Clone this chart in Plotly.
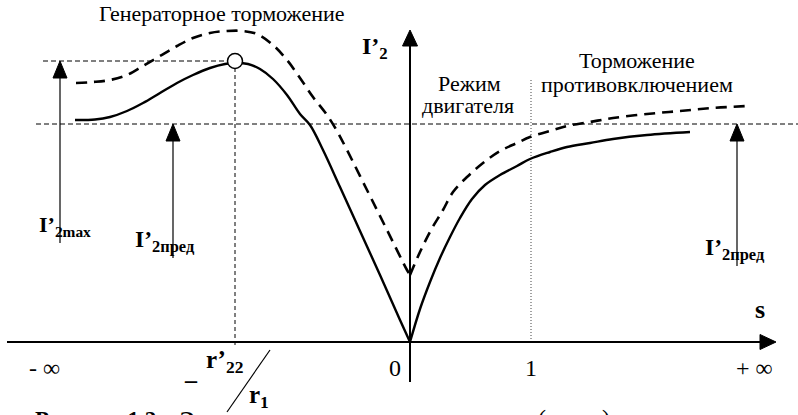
import plotly.graph_objects as go

# chart units ~ pixels; origin where the I'2 axis crosses the s axis
# solid curve (nominal), generator branch (s < 0) and motor/braking branch (s > 0)
s_gen = [-335, -315, -300, -283, -267, -250, -233, -217, -200, -185, -175, -162,
         -150, -137, -123, -110, -100, -87, -70, -50, -30, -10, 0]
i_gen = [222, 222.5, 225, 231, 239, 249, 259, 267, 274, 278, 279, 278,
         273, 263, 247, 228, 217, 192, 155, 111, 67, 22, 0]
s_mot = [0, 10, 20, 30, 40, 50, 62, 75, 90, 107, 120, 140, 157, 180, 203, 237, 280]
i_mot = [0, 33, 60, 84, 105, 124, 143, 157, 167, 176, 183, 190, 195, 199, 203, 207, 210]

# dashed curve
s_gen_d = [-334, -317, -300, -283, -267, -250, -233, -217, -200, -183, -167, -153,
           -137, -123, -110, -97, -83, -73, -63, -43, -23, -3, 0]
i_gen_d = [259, 260, 262, 267, 276, 286, 296, 304, 309, 311, 311, 308,
           297, 282, 264, 245, 227, 211, 192, 152, 112, 72, 67]
s_mot_d = [0, 10, 21, 33, 43, 57, 73, 90, 107, 120, 140, 157, 180, 203, 237, 270, 303, 338]
i_mot_d = [67, 90, 112, 132, 150, 165, 179, 191, 199, 205, 211, 216, 220, 224, 228, 231, 234, 236]

i2_max = 281
i2_pred = 218
s_k = -175
s_one = 121

tick_pos = [-366, -15, 121, 344]
tick_text = ['- ∞', '0', '1', '+ ∞']

arrow_x = [-350, -237, 327]
arrow_top = [i2_max, i2_pred, i2_pred]
arrow_bottom = [99, 84, 76]
arrow_label = ['I’<sub>2max</sub>', 'I’<sub>2пред</sub>', 'I’<sub>2пред</sub>']
label_x = [-345, -245, 325]
label_size = [22, 23.5, 23.5]

FONT = 'Liberation Serif, Times New Roman, serif'


def head(x, y, direction, length=16, width=14):
    # filled triangle with its tip at (x, y)
    if direction == 'up':
        return [x - width / 2, x, x + width / 2, x - width / 2], [y - length, y, y - length, y - length]
    return [x - length, x, x - length, x - length], [y - width / 2, y, y + width / 2, y - width / 2]


fig = go.Figure()

line = dict(color='black', width=1)

# reference lines
fig.add_trace(go.Scatter(x=[-374, 388], y=[i2_pred, i2_pred], mode='lines',
                         line=dict(color='black', width=1, dash='5px,3px')))
fig.add_trace(go.Scatter(x=[-367, s_k], y=[i2_max, i2_max], mode='lines',
                         line=dict(color='black', width=1, dash='5px,3px')))
fig.add_trace(go.Scatter(x=[s_k, s_k], y=[i2_max, -3], mode='lines',
                         line=dict(color='black', width=1, dash='4px,3px')))
fig.add_trace(go.Scatter(x=[s_one, s_one], y=[262, 0], mode='lines',
                         line=dict(color='#444', width=1, dash='1px,2px')))

# axes
fig.add_trace(go.Scatter(x=[-403, 352], y=[0, 0], mode='lines', line=dict(color='black', width=2)))
hx, hy = head(366, 0, 'right', length=16, width=15)
fig.add_trace(go.Scatter(x=hx, y=hy, mode='lines', fill='toself', fillcolor='black', line=line))
fig.add_trace(go.Scatter(x=[0, 0], y=[-40, 298], mode='lines', line=dict(color='black', width=2)))
hx, hy = head(0, 312, 'up', length=16, width=15)
fig.add_trace(go.Scatter(x=hx, y=hy, mode='lines', fill='toself', fillcolor='black', line=line))

# limit arrows
for ax_, top, bot in zip(arrow_x, arrow_top, arrow_bottom):
    fig.add_trace(go.Scatter(x=[ax_, ax_], y=[bot, top - 14], mode='lines',
                             line=dict(color='black', width=1.2)))
    hx, hy = head(ax_, top, 'up', length=17, width=14)
    fig.add_trace(go.Scatter(x=hx, y=hy, mode='lines', fill='toself', fillcolor='black', line=line))

# curves
dash = '11px,7px'
fig.add_trace(go.Scatter(x=s_gen_d, y=i_gen_d, mode='lines', line=dict(color='black', width=2.6, dash=dash, shape='spline')))
fig.add_trace(go.Scatter(x=s_mot_d, y=i_mot_d, mode='lines', line=dict(color='black', width=2.6, dash=dash, shape='spline')))
fig.add_trace(go.Scatter(x=s_gen, y=i_gen, mode='lines', line=dict(color='black', width=2.4, shape='spline')))
fig.add_trace(go.Scatter(x=s_mot, y=i_mot, mode='lines', line=dict(color='black', width=2.4, shape='spline')))

# maximum point
fig.add_trace(go.Scatter(x=[s_k], y=[i2_max], mode='markers',
                         marker=dict(size=15, color='white', line=dict(color='black', width=1.5))))

# fraction slash  - r'2 / r1
fig.add_trace(go.Scatter(x=[-140, -183], y=[-8, -70], mode='lines', line=dict(color='black', width=1.2)))

ann = []


def txt(x, y, text, size=22, bold=False, xanchor='center', yanchor='middle', xref='x', yref='y'):
    ann.append(dict(x=x, y=y, xref=xref, yref=yref, text=f'<b>{text}</b>' if bold else text,
                    showarrow=False, xanchor=xanchor, yanchor=yanchor,
                    font=dict(family=FONT, size=size, color='black')))


txt(-188, 329, 'Генераторное торможение')
txt(-35, 294, 'I’<sub>2</sub>', size=24, bold=True)
txt(59, 259, 'Режим')
txt(58, 237, 'двигателя')
txt(227, 282, 'Торможение')
txt(227, 258, 'противовключением')
for lx, bot, lab, sz in zip(label_x, arrow_bottom, arrow_label, label_size):
    txt(lx, bot + 17, lab, size=sz, bold=True)
txt(350, 33, 's', size=26, bold=True)
for p, t in zip(tick_pos, tick_text):
    txt(p, -26, t, size=24)
txt(-219, -30, '_', size=24, bold=True)
txt(-186, -19, 'r’<sub>22</sub>', size=25, bold=True)
txt(-151, -54, 'r<sub>1</sub>', size=25, bold=True)
txt(33 / 798, 10 / 415, 'Рисунок 1.2 – Э', size=23, bold=True, xanchor='left', yanchor='top', xref='paper', yref='paper')
txt(536 / 798, 12 / 415, '(', size=24, xanchor='left', yanchor='top', xref='paper', yref='paper')
txt(600 / 798, 12 / 415, ')', size=24, xanchor='left', yanchor='top', xref='paper', yref='paper')

fig.update_layout(
    width=798, height=415,
    margin=dict(l=0, r=0, t=0, b=0),
    paper_bgcolor='white', plot_bgcolor='white',
    showlegend=False, hovermode=False,
    annotations=ann,
    xaxis=dict(range=[-410, 388], visible=False, fixedrange=True),
    yaxis=dict(range=[-73, 342], visible=False, fixedrange=True),
)

fig.write_html('out.html', config={'displayModeBar': False},
               post_script="document.body.style.margin='0';")
